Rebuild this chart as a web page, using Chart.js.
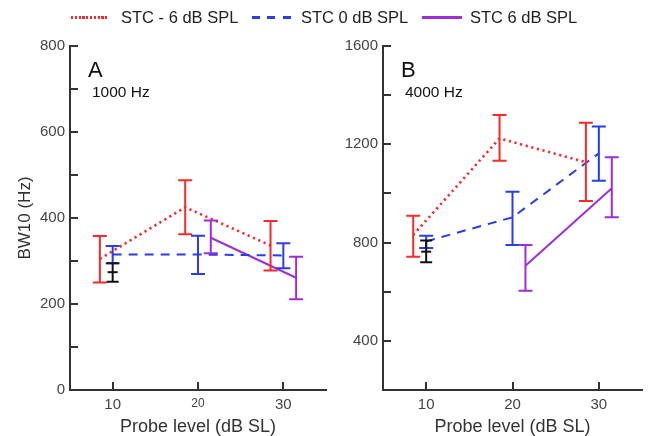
<!DOCTYPE html>
<html>
<head>
<meta charset="utf-8">
<title>BW10 vs probe level</title>
<script src="https://cdn.jsdelivr.net/npm/chart.js@4.4.1/dist/chart.umd.min.js"></script>
<style>
  body { margin: 0; background: #fff; font-family: "Liberation Sans", Arial, sans-serif; }
  #wrap { position: relative; width: 653px; height: 436px; overflow: hidden; }
  canvas { position: absolute; top: 0; }
  #chartA { left: 0; }
  #chartB { left: 333px; }
  .key { position: absolute; top: 7px; font-size: 16.5px; line-height: 20px; color: #222; white-space: nowrap; }
  .swatch { position: absolute; }
  .sw-red { left: 71px; top: 16px; width: 38px; height: 3px;
    background: repeating-linear-gradient(to right, #f52b2b 0 2.2px, transparent 2.2px 3.8px); }
  .sw-blue { left: 252px; top: 16px; width: 40px; height: 2.5px;
    background: repeating-linear-gradient(to right, #2a3de8 0 8px, transparent 8px 15.5px); }
  .sw-purple { left: 422px; top: 16px; width: 40px; height: 2.5px; background: #9d2fd6; }
</style>
</head>
<body>
<div id="wrap">
  <canvas id="chartA" width="333" height="436"></canvas>
  <canvas id="chartB" width="320" height="436"></canvas>
  <div class="swatch sw-red"></div><div class="key" style="left:121px">STC - 6 dB SPL</div>
  <div class="swatch sw-blue"></div><div class="key" style="left:301px">STC 0 dB SPL</div>
  <div class="swatch sw-purple"></div><div class="key" style="left:470px">STC 6 dB SPL</div>
</div>
<script>
// probe levels shown on the x axis
const xTicks = [10, 20, 30];

// A: 1000 Hz probe (mean, lower and upper error bar)
const aRedX = [8.5, 18.5, 28.5];
const aRedMean = [305, 425, 336];
const aRedLo = [250, 362, 278];
const aRedHi = [358, 488, 393];
const aBlueX = [10, 20, 30];
const aBlueMean = [315, 315, 313];
const aBlueLo = [295, 270, 283];
const aBlueHi = [335, 359, 341];
const aPurpleX = [21.5, 31.5];
const aPurpleMean = [354, 261];
const aPurpleLo = [318, 211];
const aPurpleHi = [394, 310];
const aBlackX = [10];
const aBlackMean = [274];
const aBlackLo = [252];
const aBlackHi = [295];

// B: 4000 Hz probe
const bRedX = [8.5, 18.5, 28.5];
const bRedMean = [831, 1224, 1127];
const bRedLo = [742, 1133, 969];
const bRedHi = [909, 1319, 1288];
const bBlueX = [10, 20, 30];
const bBlueMean = [805, 903, 1163];
const bBlueLo = [778, 790, 1052];
const bBlueHi = [828, 1007, 1272];
const bPurpleX = [21.5, 31.5];
const bPurpleMean = [706, 1021];
const bPurpleLo = [604, 903];
const bPurpleHi = [790, 1147];
const bBlackX = [10];
const bBlackMean = [763];
const bBlackLo = [720];
const bBlackHi = [808];

const RED = '#f52b2b', BLUE = '#2a3de8', PURPLE = '#9d2fd6', BLACK = '#111';
const FONT = '"Liberation Sans", Arial, sans-serif';

function series(label, color, dash, xs, mean, lo, hi) {
  return {
    label: label,
    data: xs.map((x, i) => ({ x: x, y: mean[i] })),
    errLo: lo,
    errHi: hi,
    borderColor: color,
    backgroundColor: color,
    borderDash: dash,
    borderWidth: dash && dash[0] < 4 ? 2.6 : 2,
    showLine: true,
    pointRadius: 0,
    tension: 0
  };
}

function blackSeries(xs, mean, lo, hi) {
  return {
    label: 'n',
    data: xs.map((x, i) => ({ x: x, y: mean[i] })),
    errLo: lo,
    errHi: hi,
    capHalf: 6,
    borderColor: BLACK,
    backgroundColor: BLACK,
    showLine: false,
    pointStyle: 'line',
    pointRadius: 5,
    pointBorderWidth: 2
  };
}

// vertical bars with caps, taken from errLo / errHi
const errorBars = {
  id: 'errorBars',
  afterDatasetsDraw(chart) {
    const { ctx, scales: { x, y } } = chart;
    chart.data.datasets.forEach(ds => {
      if (!ds.errLo) return;
      const cap = ds.capHalf || 7;
      ctx.save();
      ctx.strokeStyle = ds.borderColor;
      ctx.lineWidth = 2;
      ctx.setLineDash([]);
      ctx.beginPath();
      ds.data.forEach((p, i) => {
        const px = x.getPixelForValue(p.x);
        const top = y.getPixelForValue(ds.errHi[i]);
        const bot = y.getPixelForValue(ds.errLo[i]);
        ctx.moveTo(px, top); ctx.lineTo(px, bot);
        ctx.moveTo(px - cap, top); ctx.lineTo(px + cap, top);
        ctx.moveTo(px - cap, bot); ctx.lineTo(px + cap, bot);
      });
      ctx.stroke();
      ctx.restore();
    });
  }
};

// tick marks pointing into the plot area
const innerTicks = {
  id: 'innerTicks',
  afterDraw(chart) {
    const { ctx, chartArea: a, scales: { x, y } } = chart;
    ctx.save();
    ctx.strokeStyle = '#333';
    ctx.lineWidth = 2;
    ctx.beginPath();
    y.ticks.forEach(t => {
      const py = Math.round(y.getPixelForValue(t.value));
      ctx.moveTo(a.left, py); ctx.lineTo(a.left + 8, py);
    });
    x.ticks.forEach(t => {
      const px = Math.round(x.getPixelForValue(t.value));
      ctx.moveTo(px, a.bottom); ctx.lineTo(px, a.bottom - 8);
    });
    ctx.stroke();
    ctx.restore();
  }
};

// panel letter and probe frequency in the top-left corner
const panelLabel = {
  id: 'panelLabel',
  afterDraw(chart, args, opts) {
    const { ctx, chartArea: a } = chart;
    ctx.save();
    ctx.fillStyle = '#111';
    ctx.textBaseline = 'alphabetic';
    ctx.font = '22px ' + FONT;
    ctx.fillText(opts.letter, a.left + 18, a.top + 31);
    ctx.font = '15.5px ' + FONT;
    ctx.fillText(opts.freq, a.left + 22, a.top + 51);
    ctx.restore();
  }
};

function makePanel(id, p) {
  return new Chart(document.getElementById(id), {
    type: 'scatter',
    data: { datasets: p.datasets },
    options: {
      responsive: false,
      animation: false,
      layout: { padding: { top: 46, right: p.padRight, bottom: 0, left: 0 } },
      plugins: {
        legend: { display: false },
        tooltip: { enabled: false },
        panelLabel: { letter: p.letter, freq: p.freq }
      },
      scales: {
        x: {
          type: 'linear',
          min: 5,
          max: 35,
          afterBuildTicks: s => { s.ticks = xTicks.map(v => ({ value: v })); },
          afterFit: s => { s.height = 46; },
          grid: { display: true, drawOnChartArea: false, drawTicks: false, lineWidth: 2 },
          border: { display: true, color: '#333', width: 2 },
          ticks: { padding: 6, color: '#444', font: p.xTickFont },
          title: {
            display: true,
            text: 'Probe level (dB SL)',
            color: '#333',
            font: { family: FONT, size: 18, lineHeight: 1 },
            padding: { top: 0, bottom: 0 }
          }
        },
        y: {
          min: p.yMin,
          max: p.yMax,
          afterFit: s => { s.width = p.yWidth; },
          grid: { display: true, drawOnChartArea: false, drawTicks: false, lineWidth: 2 },
          border: { display: true, color: '#333', width: 2 },
          ticks: {
            stepSize: p.yStep,
            padding: 5,
            color: '#444',
            font: { family: FONT, size: 15 },
            // unlabelled minor ticks between the labelled ones
            callback: v => (v % p.yLabelEvery === 0 ? v : '')
          },
          title: {
            display: !!p.yTitle,
            text: p.yTitle,
            color: '#333',
            font: { family: FONT, size: 17 },
            padding: { top: 15, bottom: 0 }
          }
        }
      }
    },
    plugins: [errorBars, innerTicks, panelLabel]
  });
}

makePanel('chartA', {
  letter: 'A',
  freq: '1000 Hz',
  yMin: 0, yMax: 800, yStep: 100, yLabelEvery: 200,
  yWidth: 70, padRight: 5,
  yTitle: 'BW10 (Hz)',
  xTickFont: c => ({ family: FONT, size: c.tick && c.tick.value === 20 ? 12 : 15 }),
  datasets: [
    series('STC - 6 dB SPL', RED, [2.2, 3.6], aRedX, aRedMean, aRedLo, aRedHi),
    series('STC 0 dB SPL', BLUE, [9, 7], aBlueX, aBlueMean, aBlueLo, aBlueHi),
    series('STC 6 dB SPL', PURPLE, [], aPurpleX, aPurpleMean, aPurpleLo, aPurpleHi),
    blackSeries(aBlackX, aBlackMean, aBlackLo, aBlackHi)
  ]
});

makePanel('chartB', {
  letter: 'B',
  freq: '4000 Hz',
  yMin: 200, yMax: 1600, yStep: 200, yLabelEvery: 400,
  yWidth: 50, padRight: 11,
  yTitle: '',
  xTickFont: { family: FONT, size: 15 },
  datasets: [
    series('STC - 6 dB SPL', RED, [2.2, 3.6], bRedX, bRedMean, bRedLo, bRedHi),
    series('STC 0 dB SPL', BLUE, [9, 7], bBlueX, bBlueMean, bBlueLo, bBlueHi),
    series('STC 6 dB SPL', PURPLE, [], bPurpleX, bPurpleMean, bPurpleLo, bPurpleHi),
    blackSeries(bBlackX, bBlackMean, bBlackLo, bBlackHi)
  ]
});
</script>
</body>
</html>
